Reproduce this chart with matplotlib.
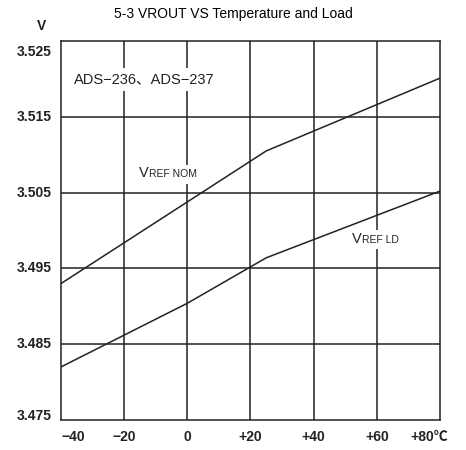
import matplotlib.pyplot as plt
import matplotlib.transforms as mtransforms

plt.rcParams["font.family"] = ["Liberation Sans", "Noto Sans CJK JP", "DejaVu Sans"]

# data
temps_nom = [-40, 25, 80]
vref_nom = [3.4930, 3.5105, 3.5201]
temps_ld = [-40, 0, 25, 80]
vref_ld = [3.4820, 3.4904, 3.4964, 3.5052]

x_ticks = [-40, -20, 0, 20, 40, 60, 80]
x_labels = ["\u221240", "\u221220", "0", "+20", "+40", "+60", "+80\u2103"]
y_ticks = [3.475, 3.485, 3.495, 3.505, 3.515, 3.525]
y_labels = ["3.475", "3.485", "3.495", "3.505", "3.515", "3.525"]

ink = "#222222"

fig = plt.figure(figsize=(4.66, 4.5), dpi=100)
ax = fig.add_axes([0.1309, 0.0667, 0.8133, 0.8422])
ax.set_xlim(-40, 80)
ax.set_ylim(3.475, 3.525)

# grid
for t in x_ticks[1:-1]:
    ax.axvline(t, color=ink, lw=1.1, zorder=1)
for v in y_ticks[1:-1]:
    ax.axhline(v, color=ink, lw=1.1, zorder=1)

ax.plot(temps_nom, vref_nom, color=ink, lw=1.1, zorder=3)
ax.plot(temps_ld, vref_ld, color=ink, lw=1.1, zorder=3)

for s in ax.spines.values():
    s.set_color(ink)
    s.set_linewidth(1.1)
ax.set_xticks([])
ax.set_yticks([])

# tick labels as text (a few are nudged like in the original)
bx = mtransforms.blended_transform_factory(ax.transData, ax.transAxes)
for i, (t, lab) in enumerate(zip(x_ticks, x_labels)):
    ha, dx = "center", 0
    if i == 0:
        ha = "left"
    elif i == len(x_ticks) - 1:
        ha, dx = "right", 8
    ax.annotate(lab, xy=(t, 0), xycoords=bx, xytext=(dx, -17),
                textcoords="offset pixels", ha=ha, va="center",
                fontsize=10, color=ink, fontweight="semibold",
                annotation_clip=False)

by = mtransforms.blended_transform_factory(ax.transAxes, ax.transData)
for i, (v, lab) in enumerate(zip(y_ticks, y_labels)):
    dy = 0
    if i == 0:
        dy = 4
    elif i == len(y_ticks) - 1:
        dy = -11
    ax.annotate(lab, xy=(0, v), xycoords=by, xytext=(-9, dy),
                textcoords="offset pixels", ha="right", va="center",
                fontsize=10, color=ink, fontweight="bold",
                annotation_clip=False)

fig.text(42 / 466, 1 - 26 / 450, "V", ha="center", va="center",
         fontsize=10, fontweight="bold", color=ink)
fig.text(0.5, 1 - 14 / 450, "5-3 VROUT VS Temperature and Load",
         ha="center", va="center", fontsize=10, color="black")

# in-plot labels
box = dict(facecolor="white", edgecolor="none", pad=3)
ax.text(-35.9, 3.5199, "ADS\u2212236\u3001ADS\u2212237", ha="left", va="center",
        fontsize=10.5, color=ink, bbox=box, zorder=2)


def vref_label(x, y, suffix):
    ax.annotate(suffix, xy=(x, y), xytext=(10, 0), textcoords="offset pixels",
                ha="left", va="baseline", fontsize=7.5, color=ink,
                bbox=box, zorder=2)
    ax.annotate("V", xy=(x, y), ha="left", va="baseline", fontsize=10.5,
                color=ink, zorder=2.5)


vref_label(-15.3, 3.5070, "REF NOM")
vref_label(52.1, 3.4984, "REF LD")

fig.savefig("out.png", dpi=100)
